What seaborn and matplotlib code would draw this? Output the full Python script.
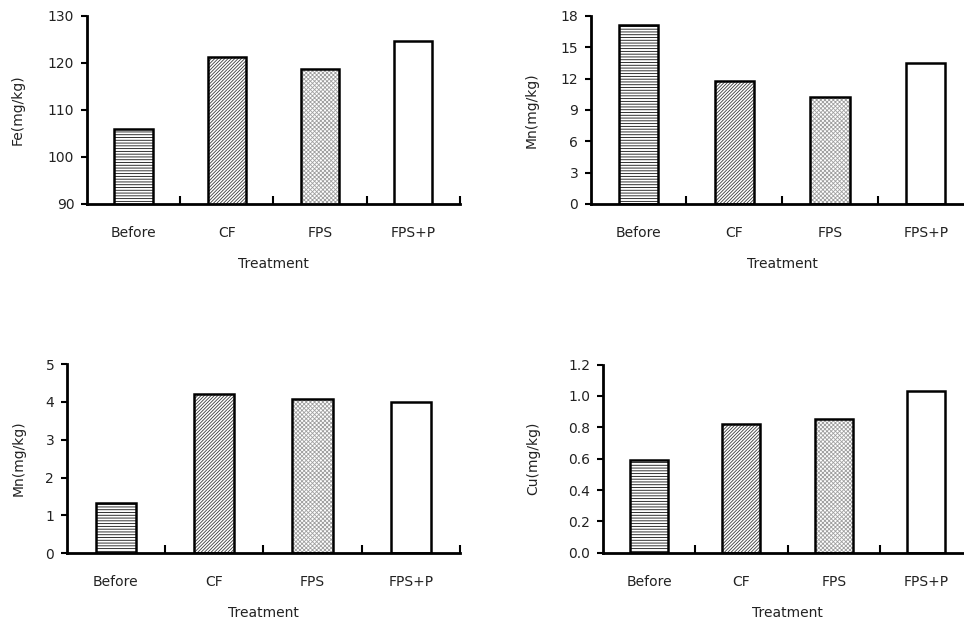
import matplotlib
matplotlib.use("Agg")
import matplotlib.pyplot as plt
import seaborn as sns
import pandas as pd

sns.set_theme(style="white")
plt.rcParams["font.family"] = ["DejaVu Sans"]
plt.rcParams["hatch.linewidth"] = 0.6

treatments = ["Before", "CF", "FPS", "FPS+P"]
fe_values = [106.0, 121.3, 118.7, 124.7]
mn_values = [17.1, 11.8, 10.2, 13.5]
mn2_values = [1.32, 4.2, 4.08, 4.0]
cu_values = [0.59, 0.82, 0.855, 1.03]

fe_ticks = [90, 100, 110, 120, 130]
mn_ticks = [0, 3, 6, 9, 12, 15, 18]
mn2_ticks = [0, 1, 2, 3, 4, 5]
cu_ticks = [0.0, 0.2, 0.4, 0.6, 0.8, 1.0, 1.2]

hatches = ["------", "//////////", "xxxxxxxx", ""]
hatch_colors = ["#111111", "#3a3a3a", "#a0a0a0", "#111111"]

fig = plt.figure(figsize=(9.64, 6.23), dpi=100)

panels = [
    # rect, values, ticks, ylabel, fmt, label x position
    ([0.0900, 0.6726, 0.3870, 0.3020], fe_values, fe_ticks, "Fe(mg/kg)", "{:.0f}", -0.166),
    ([0.6128, 0.6726, 0.3973, 0.3020], mn_values, mn_ticks, "Mn(mg/kg)", "{:.0f}", -0.136),
    ([0.0692, 0.1120, 0.4080, 0.3035], mn2_values, mn2_ticks, "Mn(mg/kg)", "{:.0f}", -0.104),
    ([0.6252, 0.1128, 0.3838, 0.3020], cu_values, cu_ticks, "Cu(mg/kg)", "{:.1f}", -0.169),
]

text_color = "#222222"

for rect, values, ticks, ylabel, fmt, lx in panels:
    ax = fig.add_axes(rect)
    df = pd.DataFrame({"Treatment": treatments, "value": values})

    # hatched fill layer
    sns.barplot(data=df, x="Treatment", y="value", ax=ax, width=0.41,
                color="white", linewidth=0, saturation=1, zorder=2)
    for patch, h, hc in zip(ax.patches, hatches, hatch_colors):
        patch.set_facecolor("white")
        patch.set_hatch(h)
        patch.set_edgecolor(hc)
        patch.set_linewidth(0)

    # black outline layer
    sns.barplot(data=df, x="Treatment", y="value", ax=ax, width=0.41,
                fill=False, edgecolor="black", linewidth=1.8, zorder=3)

    ax.set_ylim(ticks[0], ticks[-1])
    ax.set_yticks(ticks)
    ax.set_yticklabels([fmt.format(t) for t in ticks])
    ax.set_xlim(-0.5, 3.5)
    ax.set_xticks([0.5, 1.5, 2.5, 3.5])
    ax.set_xticklabels([])
    ax.set_xticks(range(len(treatments)), treatments, minor=True)

    for side in ["top", "right"]:
        ax.spines[side].set_visible(False)
    for side in ["left", "bottom"]:
        ax.spines[side].set_linewidth(2)
        ax.spines[side].set_color("black")
        ax.spines[side].set_zorder(4)

    ax.tick_params(axis="y", which="major", direction="out", length=4, width=1.5,
                   color="black", pad=5, labelsize=10, labelcolor=text_color, left=True)
    ax.tick_params(axis="x", which="major", direction="in", length=6, width=1.5,
                   color="black", bottom=True)
    ax.tick_params(axis="x", which="minor", length=0, pad=16, labelsize=10,
                   labelcolor=text_color, bottom=True)

    ax.set_xlabel("Treatment", fontsize=10, color=text_color, labelpad=12)
    ax.set_ylabel(ylabel, fontsize=10, color=text_color)
    ax.yaxis.set_label_coords(lx, 0.5)
    ax.set_facecolor("white")

fig.savefig("out.png", dpi=100, facecolor="white")
